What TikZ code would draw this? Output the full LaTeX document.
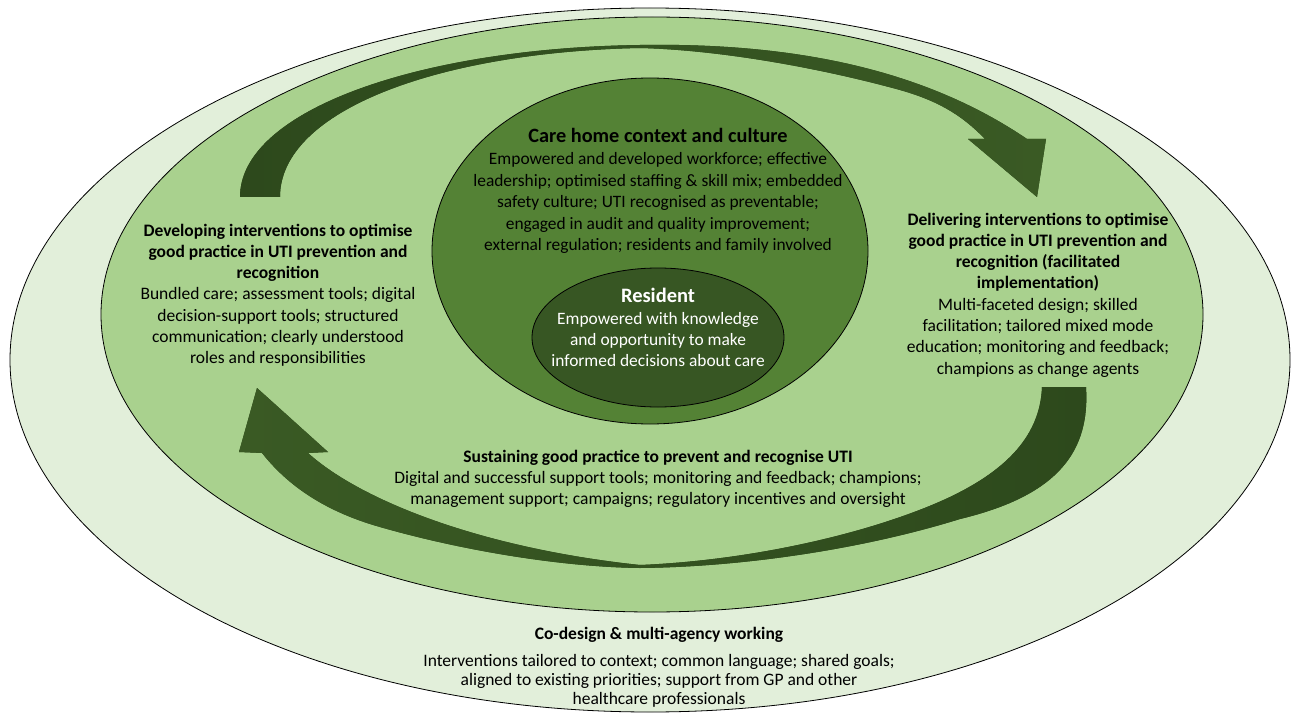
\documentclass[tikz,border=0pt]{standalone}
\usepackage{fontspec}
\setmainfont{Carlito}
\usetikzlibrary{positioning}

\definecolor{ringout}{HTML}{E2EFDA}
\definecolor{ringmid}{HTML}{A9D18E}
\definecolor{ringcare}{HTML}{548235}
\definecolor{ringres}{HTML}{375623}
\definecolor{arrowdark}{HTML}{2D491C}
\definecolor{arrowlight}{HTML}{3A5A24}

\tikzset{
     ring/.style={draw=black, line width=0.8pt},
     bendarrow/.style={fill=arrowdark},
     blocktext/.style={align=center, inner sep=0pt, anchor=north, font=\fontsize{17.5}{21.3}\selectfont},
}

\begin{document}
\begin{tikzpicture}[x=1pt, y=-1pt]
               \useasboundingbox[fill=white] (0,0) rectangle (1293,714);
               \draw[ring, fill=ringout] (650,360) ellipse[x radius=640, y radius=352];
               \draw[ring, fill=ringmid] (652,314.5) ellipse[x radius=551, y radius=297.5];
               \path[bendarrow, left color=arrowdark, right color=arrowlight]
                    (240,197) .. controls (240,110) and (420,48) .. (640,45)
                    .. controls (820,42) and (940,80) .. (1027,139)
                    -- (1046,139) -- (1037,197) -- (968,139) -- (985,139)
                    .. controls (960,113) and (935,100) .. (900,90)
                    .. controls (820,68) and (720,50) .. (640,48)
                    .. controls (440,52) and (280,110) .. (280,197) -- cycle;
               \path[bendarrow, left color=arrowlight, right color=arrowdark]
                    (1086,387) .. controls (1090,450) and (1060,495) .. (960,519)
                    .. controls (860,550) and (740,567) .. (640,568)
                    .. controls (560,567) and (460,550) .. (380,527)
                    .. controls (320,510) and (285,482) .. (262,453)
                    -- (239,452) -- (257,388) -- (328,452) -- (308,453)
                    .. controls (360,500) and (480,548) .. (640,565)
                    .. controls (760,560) and (880,530) .. (950,497)
                    .. controls (1000,473) and (1040,440) .. (1042,387) -- cycle;
               \draw[ring, fill=ringcare] (650,251) ellipse[x radius=218, y radius=173];
               \draw[ring, fill=ringres] (658,337.5) ellipse[x radius=126, y radius=69.5];
               \node[blocktext, font=\fontsize{17.4}{21.5}\selectfont] (carehome) at (658,128)
                    {{\fontsize{20.3}{21.5}\selectfont\bfseries Care home context and culture}\\[1pt]
                    Empowered and developed workforce; effective\\
                    leadership; optimised staffing \& skill mix; embedded\\
                    safety culture; UTI recognised as preventable;\\
                    engaged in audit and quality improvement;\\
                    external regulation; residents and family involved};
               \node[blocktext, text=white, font=\fontsize{17.4}{21}\selectfont] (resident) at (658,288)
                    {{\fontsize{20.5}{21}\selectfont\bfseries Resident}\\[1pt]
                    Empowered with knowledge\\
                    and opportunity to make\\
                    informed decisions about care};
               \node[blocktext] (developing) at (278,223.5)
                    {\textbf{Developing interventions to optimise}\\
                    \textbf{good practice in UTI prevention and}\\
                    \textbf{recognition}\\
                    Bundled care; assessment tools; digital\\
                    decision-support tools; structured\\
                    communication; clearly understood\\
                    roles and responsibilities};
               \node[blocktext] (delivering) at (1038,212.5)
                    {\textbf{Delivering interventions to optimise}\\
                    \textbf{good practice in UTI prevention and}\\
                    \textbf{recognition (facilitated}\\
                    \textbf{implementation)}\\
                    Multi-faceted design; skilled\\
                    facilitation; tailored mixed mode\\
                    education; monitoring and feedback;\\
                    champions as change agents};
               \node[blocktext] (sustaining) at (658,449.5)
                    {\textbf{Sustaining good practice to prevent and recognise UTI}\\
                    Digital and successful support tools; monitoring and feedback; champions;\\
                    management support; campaigns; regulatory incentives and oversight};
               \node[blocktext, font=\fontsize{17.5}{19}\selectfont] (codesign) at (659,626.5)
                    {\textbf{Co-design \& multi-agency working}\\[8pt]
                    Interventions tailored to context; common language; shared goals;\\
                    aligned to existing priorities; support from GP and other\\
                    healthcare professionals};
\end{tikzpicture}
\end{document}
